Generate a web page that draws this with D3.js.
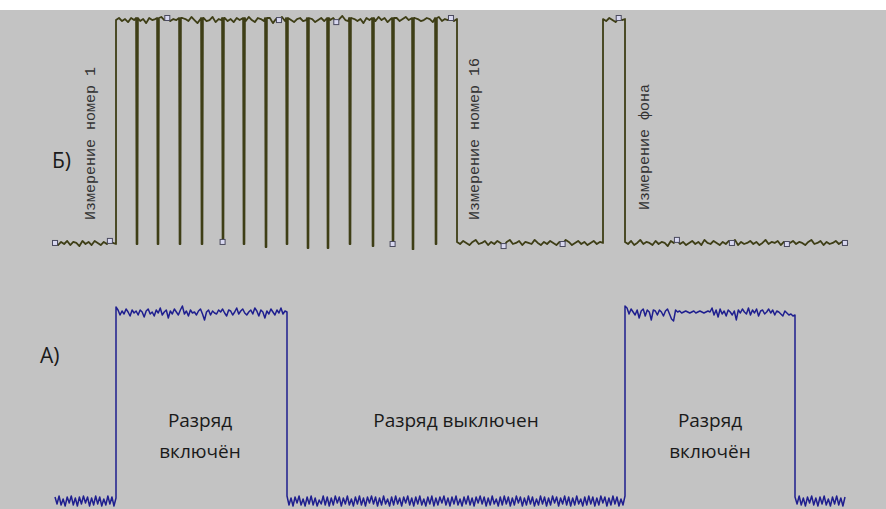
<!DOCTYPE html>
<meta charset="utf-8">
<style>
body { margin: 0; background: #fff; }

.trace {
  fill: none;
  stroke-linejoin: round;
}

.trace-top {
  stroke: #3e3e16;
  stroke-width: 1.8px;
}

.trace-bottom {
  stroke: #1f1f8f;
  stroke-width: 1.5px;
}

.label {
  font-family: "Open Sans", sans-serif;
  font-size: 19px;
  fill: #1a1a1a;
}

.panel {
  font-family: "Open Sans", sans-serif;
  font-size: 21px;
  fill: #1a1a1a;
}

.mark-text {
  font-family: "Liberation Mono", monospace;
  font-size: 15px;
  fill: #333333;
}

.marker {
  fill: #d8d8f0;
  stroke: #4a4a5e;
  stroke-width: 1px;
}
</style>
<svg width="886" height="509"></svg>
<script src="https://d3js.org/d3.v7.min.js"></script>
<script>

// ---- top trace (Б): 16 measurements, then background measurement ----
// segment boundaries (time units) and level of each segment
var topTimes  = [0, 61, 402, 548, 570, 793];
var topLevels = [0, 220, 0, 220, 0];

// noise, mV, one array per segment
var topLow1 = [1,-1,2,0,3,-1,2,1,-2,3,0,2,-1,3,1,-1,2,0,3,1,0];
var topHigh1 = [-2,0,-3,-1,-4,0,-2,1,-3,-1,-5,0,-2,-1,-4,1,-2,0,-3,-1,
  -2,-4,0,-1,-3,1,-2,-5,-1,0,-3,-2,1,-4,-1,-2,0,-3,-1,-4,
  0,-2,-1,-3,1,-2,-4,0,-1,-3,-2,0,-5,-1,-2,1,-3,0,-2,-4,
  -1,0,-3,-2,1,-1,-4,-2,0,-3,-1,-2,0,-4,-1,2,-2,-3,0,-1,
  -3,-1,-5,0,-2,-1,-3,1,-2,0,-4,-1,-2,0,-3,-1,1,-2,-4,0,
  -1,-3,-2,0,-1,-4,-2,1,-3,-1,-2,0,-3,-1];
var topLow2 = [2,0,3,1,-1,2,4,0,1,3,-1,2,0,3,1,-2,2,4,0,1,
  3,-1,2,1,0,4,1,-1,2,0,3,1,-1,2,0,4,2,-1,1,3,0,2,-1,1,3,0,2,1];
var topPulse = [-1,-3,0,-2,-4,0,-2,-1];
var topLow3 = [2,0,3,-1,1,4,0,2,1,-1,3,0,2,1,-2,3,1,4,0,2,
  -1,1,3,0,2,-1,4,1,0,3,1,-1,2,0,3,1,4,-1,2,0,
  1,3,0,2,-1,1,4,0,2,1,3,-1,2,0,1,3,0,2,1,-1,
  2,4,0,1,3,-1,2,0,1,3,0,2,1,0];

// short drops between measurements and how deep each one goes (mV)
var topDips     = [82, 103, 125, 147, 168, 189, 211, 232, 253, 273, 295, 318, 338, 358, 381];
var topDipDepth = [0, 0, 0, 0, 2, 0, -3, 0, -4, -4, 0, -2, 0, -5, 0];

// sample marks on the trace
var topMarkers = [0, 56, 112, 168, 223, 280, 338, 395, 450, 507, 563, 621, 676, 733, 790];

var topNotes = ["Измерение номер 1", "Измерение номер 16", "Измерение фона"];
var topNoteTimes = [40, 424, 594];

// ---- bottom trace (А): discharge on / off ----
var botTimes  = [0, 61, 232, 570, 740, 790];
var botLevels = [0, 190, 0, 190, 0];

var botLow1 = [4,-3,5,-4,2,-5,4,-2,5,-4,3,-5,4,-3,5,-2,4,-5,3,-4,5,-3,4,-5,2,-4,5,-3,4,-5,3];
var botHigh1 = [5,2,-3,1,-2,3,0,-4,2,-1,1,-3,2,0,-5,1,3,-2,0,-4,
  2,-1,4,-3,0,2,-6,1,-2,3,0,-3,2,6,-2,1,-4,2,-1,0,
  -3,1,3,-2,-8,0,2,-3,1,-1,-2,2,0,3,-1,-4,2,1,-3,0,
  4,-2,1,3,-1,-3,0,2,-2,4,1,-4,2,0,-6,1,-2,3,0,-3,
  2,-1,4,-2,1,0];
var botLow2 = [5,-4,3,-5,4,-2,5,-4,2,-5,4,-3,5,-4,3,-5,1,-3,5,-4,
  4,-5,3,-4,5,-2,4,-5,3,-3,5,-4,2,-5,4,-3,5,-4,3,-5,
  4,-2,5,-3,4,-5,3,-4,5,-3,2,-5,4,-4,5,-3,3,-5,4,-2,
  5,-4,3,-5,4,-3,5,-4,2,-5,4,-3,5,-5,3,-4,4,-2,5,-4,
  3,-5,4,-3,5,-4,2,-5,4,-3,5,-4,3,-5,4,-2,5,-3,4,-5,
  3,-4,5,-3,2,-5,4,-4,5,-3,4,-5,3,-4,5,-2,4,-5,3,-4,
  5,-3,4,-5,2,-4,5,-3,4,-5,3,-4,5,-2,4,-5,3,-3,5,-4,
  4,-5,3,-4,5,-3,2,-5,4,-4,5,-3,4,-5,3,-4,5,-2,4,-5,
  3,-4,5,-3,4,-5,2,-4,5];
var botHigh2 = [6,4,-2,3,0,-3,2,-6,1,3,-4,2,0,-8,2,1,-3,2,0,-4,
  1,3,-2,-7,-9,2,0,1,-1,0,1,0,-1,0,1,-1,0,1,0,-1,
  0,1,0,4,-3,2,-5,3,-2,1,-4,2,0,-3,1,-8,2,-1,3,0,
  -2,4,-3,2,-1,3,-4,1,2,-2,0,3,-1,2,-3,1,0,-2,-4,1,
  -1,-3,-2,-4,-3];
var botLow3 = [4,-3,5,-4,3,-5,4,-2,5,-4,3,-5,4,-3,5,-4,2,-5,4,-3,5,-4,3,-5,4];

var botNotes = [["Разряд", "включён"], ["Разряд выключен"], ["Разряд", "включён"]];
var botNoteTimes = [145, 401, 655];

var panelLabels = ["Б)", "А)"];

// ---- layout ----
var svg = d3.select("svg");
var width = +svg.attr("width");
var height = +svg.attr("height");

svg.append("rect").attr("width", width).attr("height", height).attr("fill", "#c3c3c3");
svg.append("rect").attr("width", width).attr("height", 10).attr("fill", "#ffffff");

var x = d3.scaleLinear().domain([0, 793]).range([55, 848]);
var yTop = d3.scaleLinear().domain([0, 220]).range([244, 18]);
var yBot = d3.scaleLinear().domain([0, 190]).range([501, 312]);

var line = function(y) {
    return d3.line()
        .x(function(d) { return x(d.t); })
        .y(function(d) { return y(d.v); });
};

function buildTrace(times, levels, noise) {
    var pts = [];
    noise.forEach(function(n, s) {
        var t0 = times[s], t1 = times[s + 1];
        n.forEach(function(v, k) {
            pts.push({t: t0 + (t1 - t0) * k / (n.length - 1), v: levels[s] + v});
        });
    });
    return pts;
}

function addDips(pts, dips, depth, level) {
    var out = pts.filter(function(p) {
        return !dips.some(function(d) { return Math.abs(p.t - d) < 1.3; });
    });
    dips.forEach(function(d, i) {
        out.push({t: d - 0.9, v: level});
        out.push({t: d - 0.4, v: depth[i]});
        out.push({t: d + 0.4, v: depth[i]});
        out.push({t: d + 0.9, v: level});
    });
    out.sort(function(a, b) { return a.t - b.t; });
    return out;
}

function nearest(pts, t) {
    var best = pts[0];
    pts.forEach(function(p) { if (Math.abs(p.t - t) < Math.abs(best.t - t)) best = p; });
    return best;
}

// top trace
var topPts = buildTrace(topTimes, topLevels, [topLow1, topHigh1, topLow2, topPulse, topLow3]);
topPts = addDips(topPts, topDips, topDipDepth, topLevels[1]);

var gTop = svg.append("g").attr("id", "top");

gTop.append("path")
    .datum(topPts)
    .attr("class", "trace trace-top")
    .attr("d", line(yTop));

gTop.selectAll(".marker")
    .data(topMarkers)
    .enter().append("rect")
    .attr("class", "marker")
    .attr("x", function(t) { return x(nearest(topPts, t).t) - 2.5; })
    .attr("y", function(t) { return yTop(nearest(topPts, t).v) - 2.5; })
    .attr("width", 5)
    .attr("height", 5);

gTop.selectAll(".mark-text")
    .data(topNotes)
    .enter().append("text")
    .attr("class", "mark-text")
    .attr("transform", function(d, i) {
        var bottom = i == 2 ? 210 : 220;
        return "translate(" + x(topNoteTimes[i]) + "," + bottom + ") rotate(-90)";
    })
    .text(function(d) { return d; });

// bottom trace
var botPts = buildTrace(botTimes, botLevels, [botLow1, botHigh1, botLow2, botHigh2, botLow3]);

var gBot = svg.append("g").attr("id", "bottom");

gBot.append("path")
    .datum(botPts)
    .attr("class", "trace trace-bottom")
    .attr("d", line(yBot));

botNotes.forEach(function(lines, i) {
    var t = gBot.append("text")
        .attr("class", "label")
        .attr("text-anchor", "middle")
        .attr("x", x(botNoteTimes[i]))
        .attr("y", 427);
    lines.forEach(function(s, j) {
        t.append("tspan")
            .attr("x", x(botNoteTimes[i]))
            .attr("dy", j == 0 ? 0 : 31)
            .text(s);
    });
});

// panel letters
svg.append("text").attr("class", "panel").attr("x", 52).attr("y", 168).text(panelLabels[0]);
svg.append("text").attr("class", "panel").attr("x", 40).attr("y", 363).text(panelLabels[1]);

</script>
